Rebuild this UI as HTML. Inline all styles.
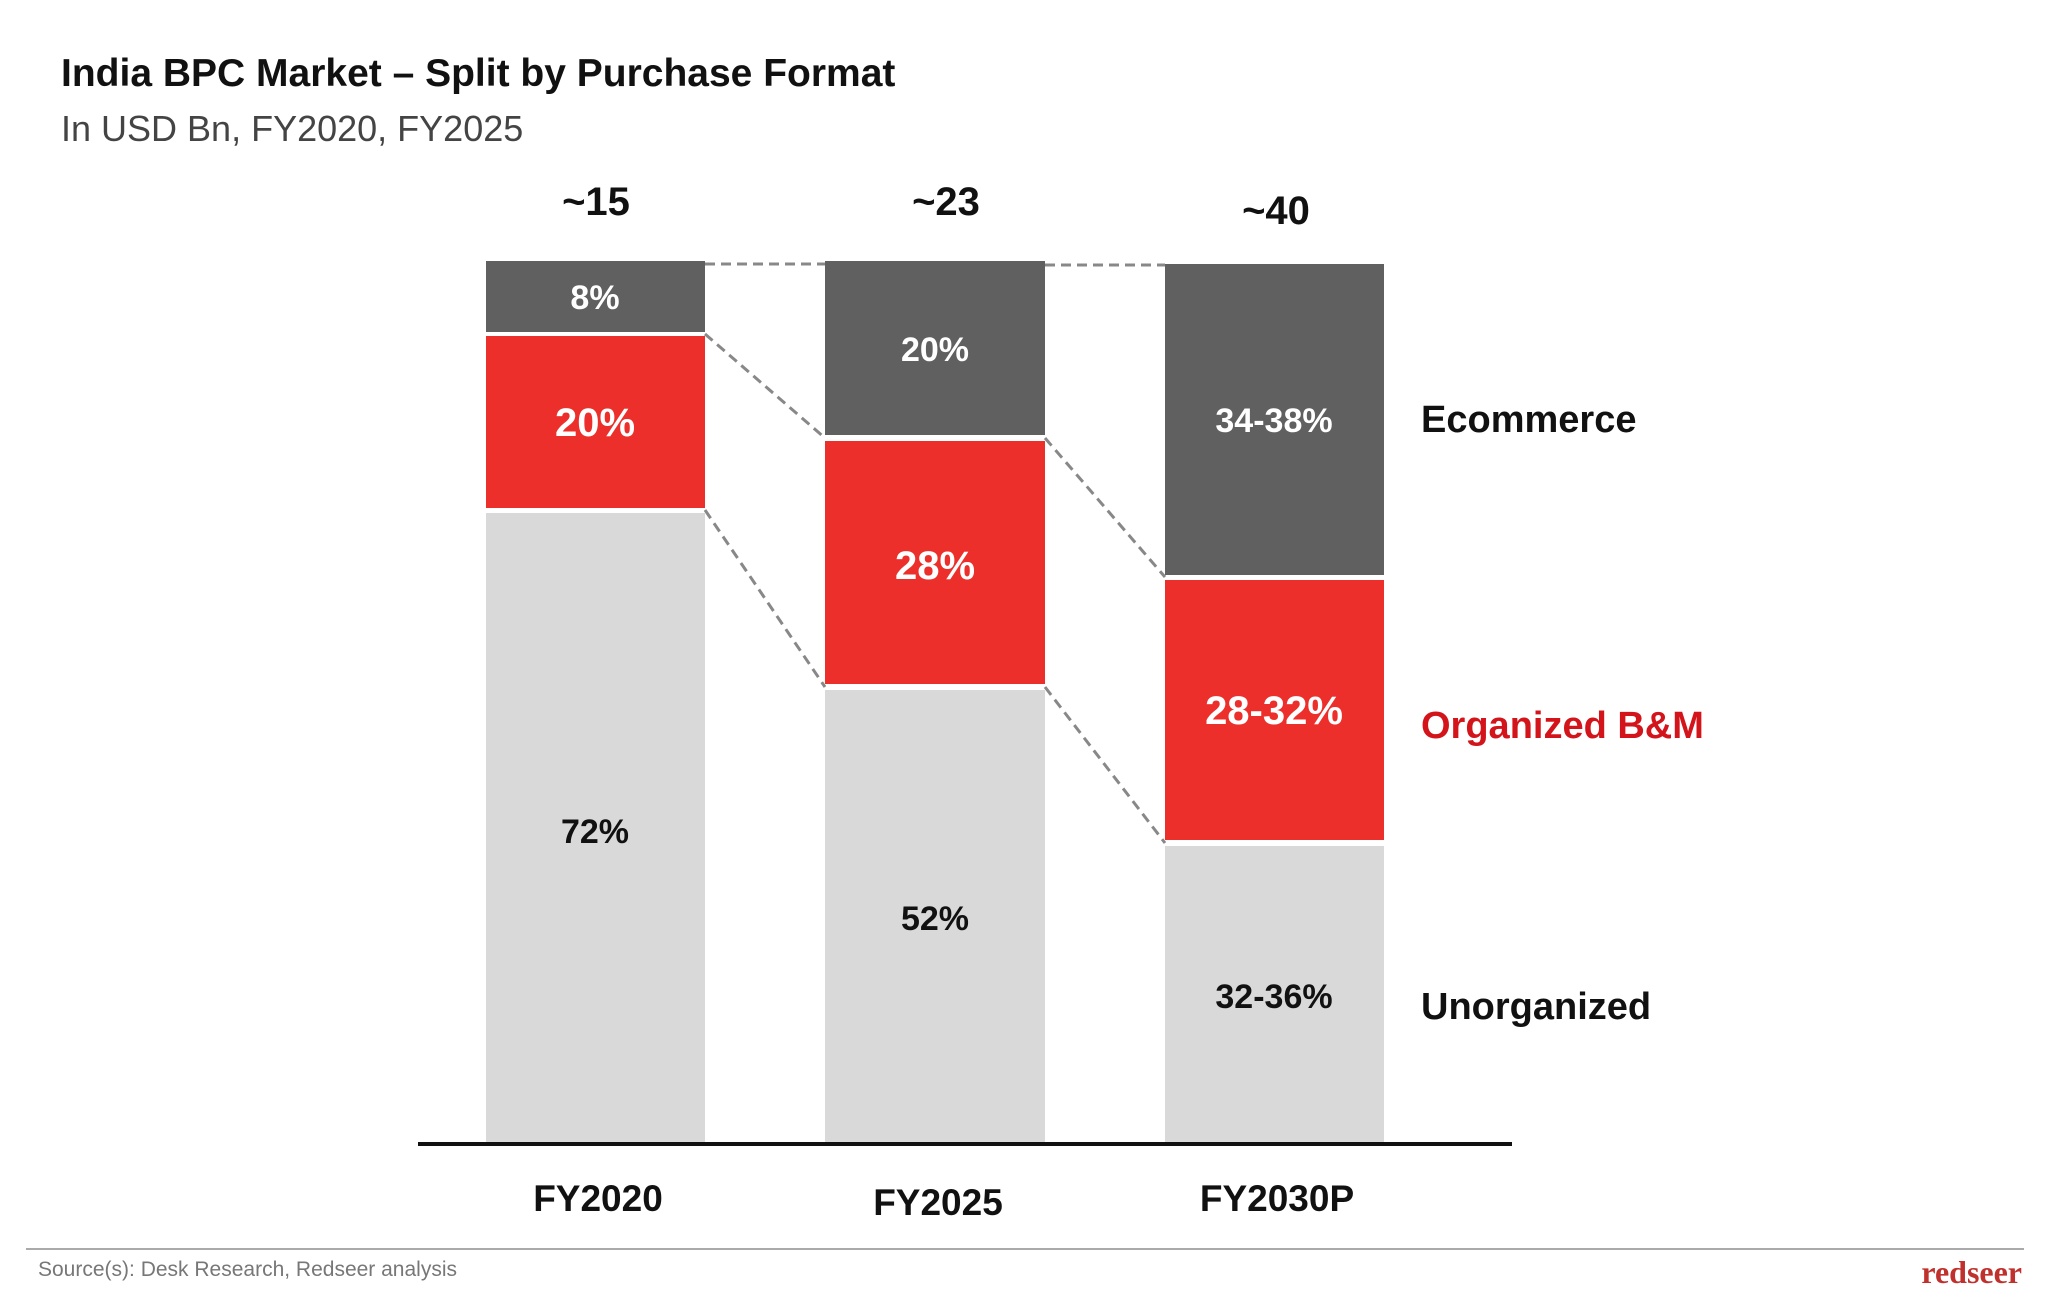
<!DOCTYPE html>
<html><head><meta charset="utf-8"><style>
body{margin:0;background:#fff;}
svg{display:block;font-family:"Liberation Sans",sans-serif;}
</style></head><body>
<svg width="2048" height="1311" viewBox="0 0 2048 1311">
<text x="61" y="86" font-size="39" font-weight="bold" fill="#111">India BPC Market – Split by Purchase Format</text>
<text x="61" y="141" font-size="36" fill="#444">In USD Bn, FY2020, FY2025</text>
<!-- connectors -->
<g stroke="#888" stroke-width="3" stroke-dasharray="10,6" fill="none">
<line x1="705" y1="264" x2="825" y2="264"/>
<line x1="1045" y1="265" x2="1165" y2="265"/>
<line x1="705" y1="334" x2="825" y2="438"/>
<line x1="705" y1="510" x2="825" y2="687"/>
<line x1="1045" y1="438" x2="1165" y2="577"/>
<line x1="1045" y1="687" x2="1165" y2="843"/>
</g>
<!-- bar1 -->
<rect x="486" y="261" width="219" height="71" fill="#606060"/>
<rect x="486" y="336" width="219" height="172" fill="#ec2f2a"/>
<rect x="486" y="513" width="219" height="631" fill="#d9d9d9"/>
<!-- bar2 -->
<rect x="825" y="261" width="220" height="174" fill="#606060"/>
<rect x="825" y="441" width="220" height="243" fill="#ec2f2a"/>
<rect x="825" y="690" width="220" height="454" fill="#d9d9d9"/>
<!-- bar3 -->
<rect x="1165" y="264" width="219" height="311" fill="#606060"/>
<rect x="1165" y="580" width="219" height="260" fill="#ec2f2a"/>
<rect x="1165" y="846" width="219" height="298" fill="#d9d9d9"/>
<rect x="418" y="1142" width="1094" height="4" fill="#111"/>
<g font-weight="bold" text-anchor="middle">
<text x="596" y="215" font-size="40" fill="#111">~15</text>
<text x="946" y="215" font-size="40" fill="#111">~23</text>
<text x="1276" y="224" font-size="40" fill="#111">~40</text>
<text x="595" y="309" font-size="34" fill="#fff">8%</text>
<text x="595" y="436" font-size="40" fill="#fff">20%</text>
<text x="595" y="843" font-size="34" fill="#111">72%</text>
<text x="935" y="361" font-size="34" fill="#fff">20%</text>
<text x="935" y="579" font-size="40" fill="#fff">28%</text>
<text x="935" y="930" font-size="34" fill="#111">52%</text>
<text x="1274" y="432" font-size="34" fill="#fff">34-38%</text>
<text x="1274" y="724" font-size="40" fill="#fff">28-32%</text>
<text x="1274" y="1008" font-size="34" fill="#111">32-36%</text>
<text x="598" y="1211" font-size="37" fill="#111">FY2020</text>
<text x="938" y="1215" font-size="37" fill="#111">FY2025</text>
<text x="1277" y="1211" font-size="37" fill="#111">FY2030P</text>
</g>
<g font-size="38" font-weight="bold">
<text x="1421" y="432" fill="#111">Ecommerce</text>
<text x="1421" y="738" fill="#d3151b">Organized B&amp;M</text>
<text x="1421" y="1019" fill="#111">Unorganized</text>
</g>
<rect x="26" y="1248" width="1998" height="2" fill="#aaa"/>
<text x="38" y="1276" font-size="21" fill="#777">Source(s): Desk Research, Redseer analysis</text>
<text x="2022" y="1283" font-size="32" font-weight="bold" fill="#c0302c" text-anchor="end" font-family="Liberation Serif,serif">redseer</text>
</svg>
</body></html>
